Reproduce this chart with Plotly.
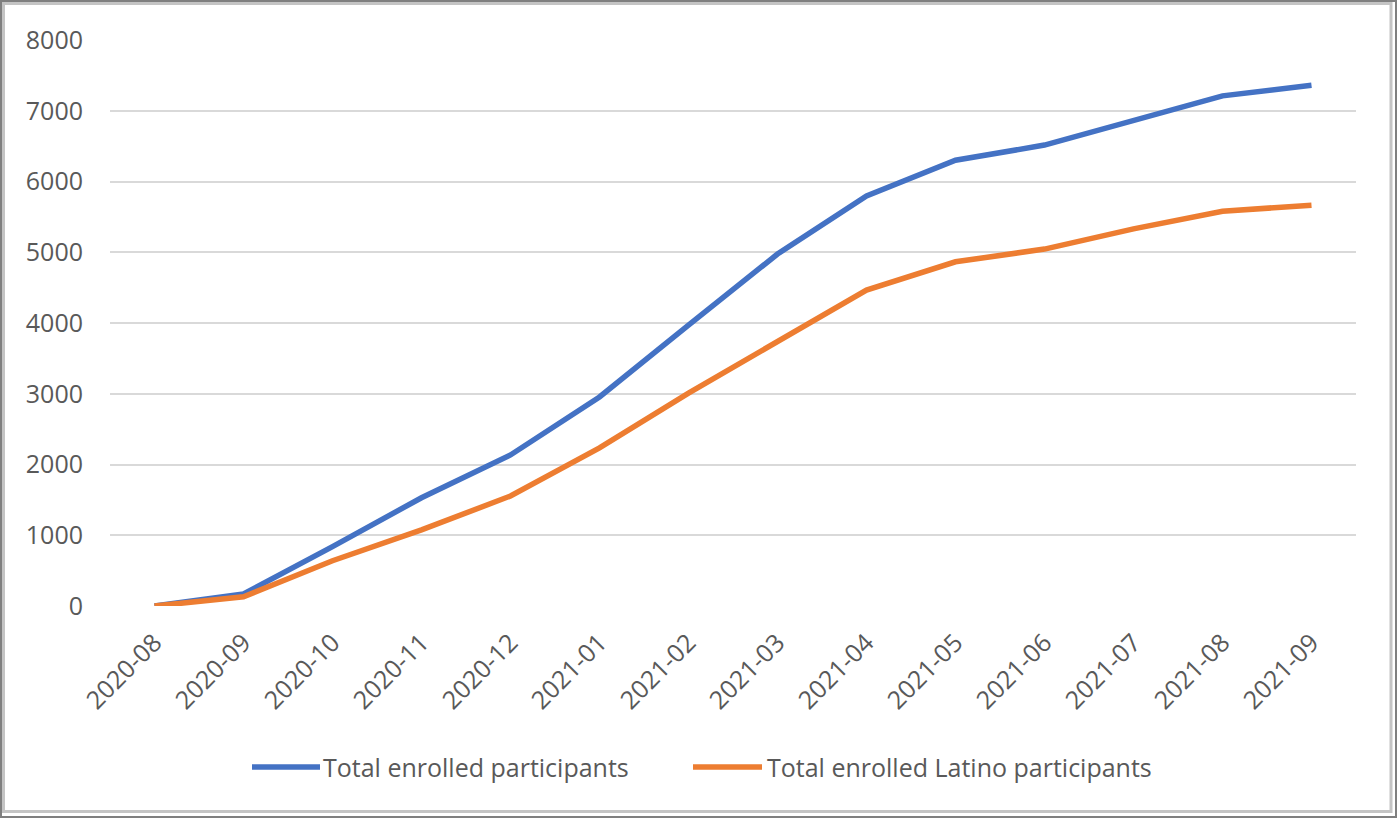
import plotly.graph_objects as go

months = ["2020-08", "2020-09", "2020-10", "2020-11", "2020-12", "2021-01", "2021-02",
          "2021-03", "2021-04", "2021-05", "2021-06", "2021-07", "2021-08", "2021-09"]
total_enrolled = [0, 170, 840, 1530, 2135, 2955, 3970, 4975, 5795, 6300, 6515, 6870, 7210, 7360]
latino_enrolled = [0, 130, 640, 1075, 1555, 2235, 3010, 3745, 4465, 4865, 5045, 5330, 5580, 5665]
series_names = ["Total enrolled participants", "Total enrolled Latino participants"]
series_colors = ["#4472C4", "#ED7D31"]

W, H = 1397, 818
L, R, T, B = 110, 41, 40, 212
pw, ph = W - L - R, H - T - B


def px_x(v):
    return (v - L) / pw


def px_y(v):
    return 1 - (v - T) / ph


fig = go.Figure()
for vals, name, col in zip([total_enrolled, latino_enrolled], series_names, series_colors):
    fig.add_trace(go.Scatter(x=months, y=vals, mode="lines", name=name,
                             line=dict(color=col, width=5.5), showlegend=False))

font = "Open Sans, Noto Sans, sans-serif"
fs = 25
fig.update_layout(
    width=W, height=H,
    margin=dict(l=L, r=R, t=T, b=B),
    plot_bgcolor="white", paper_bgcolor="white",
    font=dict(family=font, size=fs, color="#595959"),
    showlegend=False,
    xaxis=dict(type="category", range=[-0.5, 13.5], showgrid=False, zeroline=False,
               showline=False, tickangle=-45, ticks="", ticklabelstandoff=16,
               tickfont=dict(size=fs, color="#595959")),
    yaxis=dict(range=[0, 8000], dtick=1000, showgrid=True, gridcolor="#D9D9D9", gridwidth=1.5,
               zeroline=False, showline=False, ticks="", ticklabelstandoff=26,
               tickfont=dict(size=fs, color="#595959")),
)

# custom legend (long line samples like the original)
legend_items = [(252, 320, 321), (693, 762, 765)]
ly = 767
for (x0, x1, tx), name, col in zip(legend_items, series_names, series_colors):
    fig.add_shape(type="line", xref="paper", yref="paper",
                  x0=px_x(x0), x1=px_x(x1), y0=px_y(ly), y1=px_y(ly),
                  line=dict(color=col, width=5.5))
    fig.add_annotation(xref="paper", yref="paper", x=px_x(tx), y=px_y(ly),
                       xanchor="left", yanchor="middle", showarrow=False, text=name,
                       font=dict(family=font, size=fs, color="#595959"))

# outer frame of the chart area
fig.add_shape(type="rect", xref="paper", yref="paper",
              x0=px_x(1), x1=px_x(W - 1), y0=px_y(H - 1), y1=px_y(1),
              line=dict(color="#7f7f7f", width=2), layer="above")
fig.add_shape(type="rect", xref="paper", yref="paper",
              x0=px_x(3.5), x1=px_x(W - 6), y0=px_y(H - 6.5), y1=px_y(3.5),
              line=dict(color="#c4c4c4", width=3), layer="above")

fig.write_html("out.html", config={"displayModeBar": False},
               post_script="document.body.style.margin='0';document.body.style.overflow='hidden';")
